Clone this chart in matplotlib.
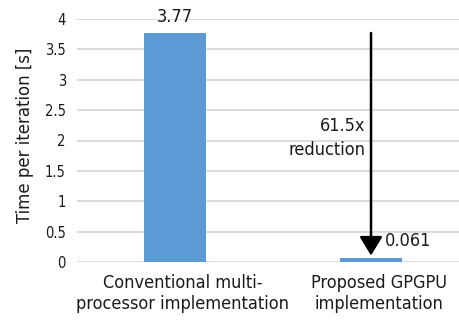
import matplotlib
matplotlib.use("Agg")
import matplotlib.pyplot as plt

categories = ["Conventional multi-\nprocessor implementation", "Proposed GPGPU\nimplementation"]
times = [3.77, 0.061]
value_labels = ["3.77", "0.061"]
reduction_label = "61.5x\nreduction"
yticks = [0, 0.5, 1, 1.5, 2, 2.5, 3, 3.5, 4]
ytick_labels = ["0", "0.5", "1", "1.5", "2", "2.5", "3", "3.5", "4"]

plt.rcParams["font.family"] = ["DejaVu Sans"]
plt.rcParams["font.stretch"] = "condensed"

bar_color = "#5B9BD5"
grid_color = "#D9D9D9"
text_color = "#1A1A1A"

fig = plt.figure(figsize=(4.6, 3.2), dpi=100)
ax = fig.add_axes([77 / 460, 58 / 320, 383 / 460, 243 / 320])

x = list(range(len(categories)))
ax.bar(x, times, width=0.316, color=bar_color, zorder=2)

ax.set_xlim(-0.5, 1.454)
ax.set_ylim(0, 4)
ax.set_yticks(yticks)
ax.set_yticklabels(ytick_labels, fontsize=10.5)
ax.yaxis.grid(True, color=grid_color, linewidth=1.3, zorder=0)
ax.set_axisbelow(True)
ax.tick_params(axis="both", length=0, colors=text_color)
ax.tick_params(axis="y", pad=8)
ax.tick_params(axis="x", pad=9)

# category labels sit slightly right of the bar centres
label_shift = 0.04
ax.set_xticks([xi + label_shift for xi in x])
ax.set_xticklabels(categories, fontsize=13, linespacing=1.2)
for s in ax.spines.values():
    s.set_visible(False)

ax.set_ylabel("Time per iteration [s]", fontsize=13.2, color=text_color)
ax.yaxis.set_label_coords(-0.113, 0.52)

# value labels
ax.annotate(value_labels[0], xy=(x[0], times[0]), xytext=(0, 5),
            textcoords="offset points", ha="center", va="bottom", fontsize=13,
            color=text_color)
ax.annotate(value_labels[1], xy=(x[1], times[1]), xytext=(10, 6),
            textcoords="offset points", ha="left", va="bottom", fontsize=13,
            color=text_color)

# reduction arrow from the taller bar's level down to the smaller bar
ax.annotate("", xy=(x[1], times[1]), xytext=(x[1], times[0]),
            arrowprops=dict(arrowstyle="-|>,head_length=1.15,head_width=0.7",
                            color="black", lw=1.8, shrinkA=0, shrinkB=2))
ax.annotate(reduction_label, xy=(x[1], (times[0] + times[1]) / 2 + 0.12),
            xytext=(-4, 0), textcoords="offset points",
            ha="right", va="center", fontsize=13, multialignment="right",
            linespacing=1.45, color=text_color)

fig.savefig("out.png", dpi=100)
